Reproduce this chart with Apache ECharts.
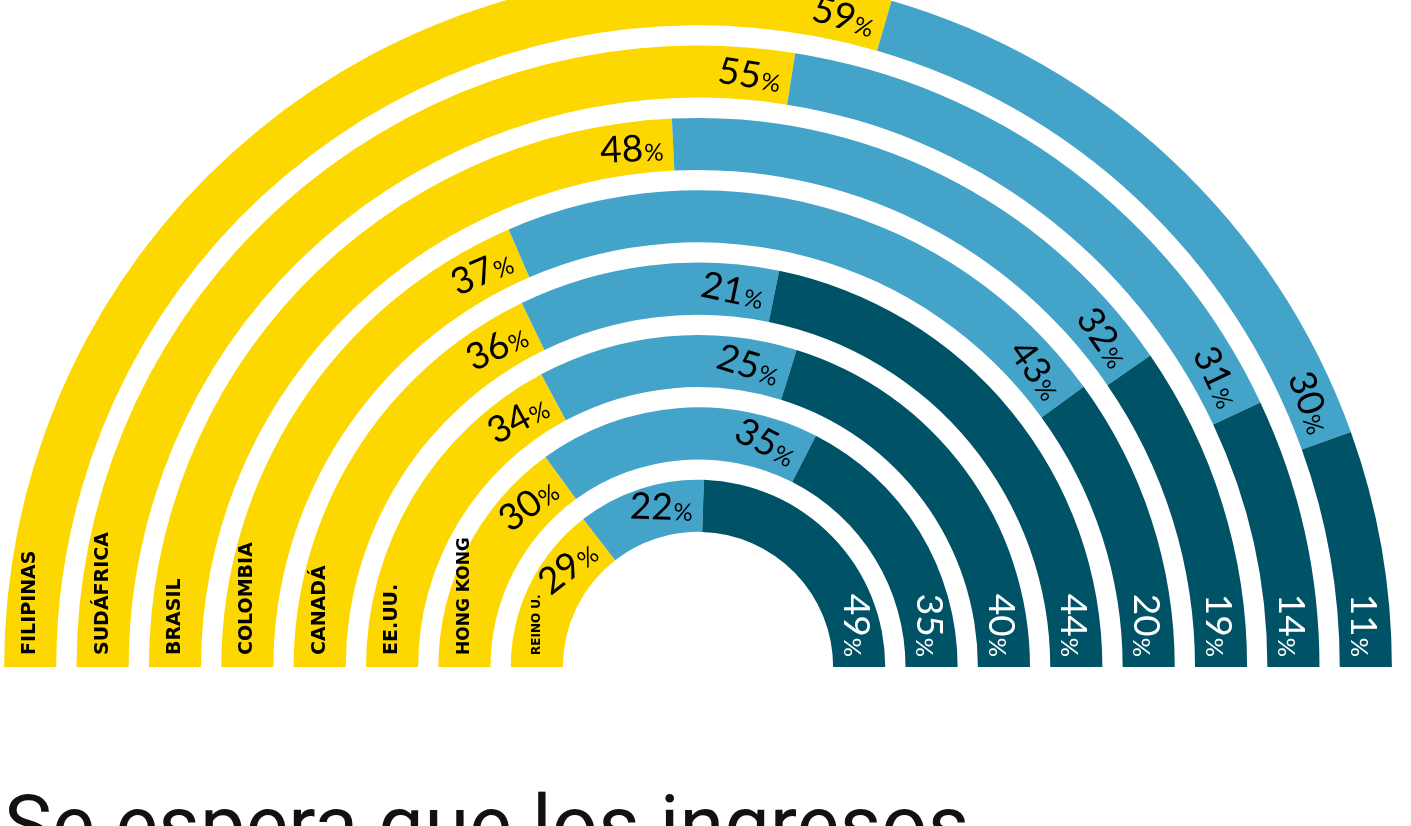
<!DOCTYPE html>
<html>
<head>
<meta charset="utf-8">
<script src="https://cdn.jsdelivr.net/npm/echarts@6/dist/echarts.min.js"></script>
<style>
  html, body { margin: 0; padding: 0; background: #fff; }
  #chart { width: 1411px; height: 826px; }
</style>
</head>
<body>
<div id="chart"></div>
<script>
// países, del anillo interior al exterior
const paises = ['REINO U.', 'HONG KONG', 'EE.UU.', 'CANADÁ', 'COLOMBIA', 'BRASIL', 'SUDÁFRICA', 'FILIPINAS']
// porcentajes de cada tramo (amarillo, azul claro, azul oscuro)
const amarillo = [29, 30, 34, 36, 37, 48, 55, 59]
const azulClaro = [22, 35, 25, 21, 43, 32, 31, 30]
const azulOscuro = [49, 35, 40, 44, 20, 19, 14, 11]

const chart = echarts.init(document.getElementById('chart'))

// cada anillo ocupa exactamente media vuelta aunque la suma no sea 100
const totales = paises.map((p, i) => amarillo[i] + azulClaro[i] + azulOscuro[i])
const norm = (arr) => arr.map((v, i) => v / totales[i] * 100)

const richPct = (color) => ({
  n: { fontFamily: 'Lato', fontSize: 37, color: color },
  p: { fontFamily: 'Lato', fontSize: 24, color: color, verticalAlign: 'bottom', padding: [0, 0, 2, 1] }
})

const pctLabel = (valores, color) => ({
  show: true,
  position: 'insideEnd',
  distance: 10,
  padding: [6, 0, 0, 0],
  formatter: (params) => '{n|' + valores[params.dataIndex] + '}{p|%}',
  rich: richPct(color)
})

// tamaño de letra del nombre de cada país
const tamPais = [12, 17, 19, 19, 19, 19, 19, 19]

// todas las barras del mismo ancho y superpuestas en su anillo
const barra = {
  type: 'bar',
  coordinateSystem: 'polar',
  barCategoryGap: '28%',
  barGap: '-100%',
  silent: true
}

const option = {
  animation: false,
  title: {
    text: 'Se espera que los ingresos',
    left: -1,
    top: 787,
    textStyle: {
      fontFamily: 'Roboto',
      fontWeight: 'normal',
      fontSize: 81,
      color: '#111'
    }
  },
  polar: {
    center: [698, 667],
    radius: [125, 704]
  },
  angleAxis: {
    type: 'value',
    min: 0,
    max: 200,
    startAngle: 180,
    clockwise: true,
    show: false
  },
  radiusAxis: {
    type: 'category',
    data: paises,
    show: false
  },
  series: [
    Object.assign({}, barra, {
      name: 'amarillo',
      stack: 'a',
      itemStyle: { color: '#fcd800' },
      label: pctLabel(amarillo, '#000'),
      data: norm(amarillo)
    }),
    Object.assign({}, barra, {
      name: 'azulClaro',
      stack: 'a',
      itemStyle: { color: '#44a3c8' },
      label: pctLabel(azulClaro, '#000'),
      data: norm(azulClaro)
    }),
    Object.assign({}, barra, {
      name: 'azulOscuro',
      stack: 'a',
      itemStyle: { color: '#005366' },
      label: pctLabel(azulOscuro, '#fff'),
      data: norm(azulOscuro)
    }),
    Object.assign({}, barra, {
      // capa transparente solo para el nombre del país
      name: 'pais',
      stack: 'b',
      itemStyle: { color: 'rgba(0,0,0,0)' },
      label: {
        show: true,
        position: 'insideStart',
        distance: 12,
        padding: [6, 0, 0, 0],
        fontFamily: 'DejaVu Sans',
        fontWeight: 'bold',
        color: '#000',
        formatter: (params) => paises[params.dataIndex]
      },
      data: norm(amarillo).map((v, i) => ({ value: v, label: { fontSize: tamPais[i] } }))
    })
  ]
}

chart.setOption(option)
</script>
</body>
</html>
